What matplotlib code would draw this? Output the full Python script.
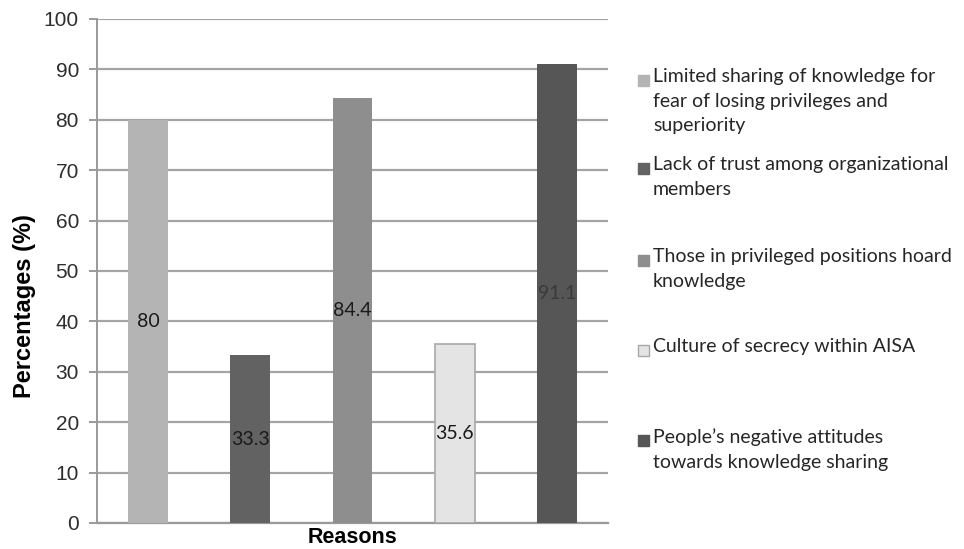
import matplotlib.pyplot as plt
from matplotlib.patches import Rectangle

reasons = [
    'Limited sharing of knowledge for\nfear of losing privileges and\nsuperiority',
    'Lack of trust among organizational\nmembers',
    'Those in privileged positions hoard\nknowledge',
    'Culture of secrecy within AISA',
    'People\u2019s negative attitudes\ntowards knowledge sharing',
]
values = [80, 33.3, 84.4, 35.6, 91.1]
labels = ['80', '33.3', '84.4', '35.6', '91.1']
colors = ['#b4b4b4', '#626262', '#8e8e8e', '#e4e4e4', '#565656']
edges = ['none', 'none', 'none', '#a8a8a8', 'none']
label_colors = ['#1a1a1a', '#1a1a1a', '#1a1a1a', '#1a1a1a', '#3a3a3a']
yticks = [0, 10, 20, 30, 40, 50, 60, 70, 80, 90, 100]

fig = plt.figure(figsize=(9.64, 5.49), dpi=100)
ax = fig.add_axes([0.1006, 0.0474, 0.530, 0.918])

x = range(len(values))
bars = ax.bar(x, values, width=0.39, color=colors, edgecolor=edges, linewidth=1.2, zorder=3)
for b, v, t, c in zip(bars, values, labels, label_colors):
    ax.text(b.get_x() + b.get_width() / 2, v / 2, t, ha='center', va='center',
            fontsize=14, family='Lato', color=c, zorder=4)

ax.set_xlim(-0.5, len(values) - 0.5)
ax.set_ylim(0, 100)
ax.set_yticks(yticks)
ax.set_xticks([])
ax.yaxis.grid(True, color='#a4a4a4', linewidth=1.6, zorder=0)
ax.set_axisbelow(True)
for s in ['top', 'right']:
    ax.spines[s].set_visible(False)
ax.spines['left'].set_color('#9a9a9a')
ax.spines['bottom'].set_color('#9a9a9a')
ax.spines['left'].set_linewidth(1.4)
ax.spines['bottom'].set_linewidth(1.6)
ax.tick_params(axis='y', length=6, width=1.4, color='#9a9a9a', labelsize=15,
               labelcolor='#2e2e2e', pad=7)
for lbl in ax.get_yticklabels():
    lbl.set_family('Liberation Sans')

ax.set_ylabel('Percentages (%)', fontsize=17, fontweight='bold', family='Liberation Sans')
ax.yaxis.set_label_coords(-0.12, 0.43)
ax.set_xlabel('Reasons', fontsize=15.5, fontweight='bold', family='Liberation Sans', labelpad=3)

# legend entries, placed by hand like the spreadsheet layout
W, H = 964, 549
entry_y = [80, 168, 260, 350, 440]
for text, c, e, y in zip(reasons, colors, edges, entry_y):
    fig.patches.append(Rectangle((638 / W, (H - y - 6) / H), 11 / W, 11 / H,
                                 transform=fig.transFigure, facecolor=c,
                                 edgecolor=e if e != 'none' else c, linewidth=1))
    fig.text(653 / W, (H - y + 12) / H, text, ha='left', va='top', fontsize=14,
             family='Lato', color='#262626', linespacing=1.55,
             transform=fig.transFigure)

fig.savefig('out.png', dpi=100)
